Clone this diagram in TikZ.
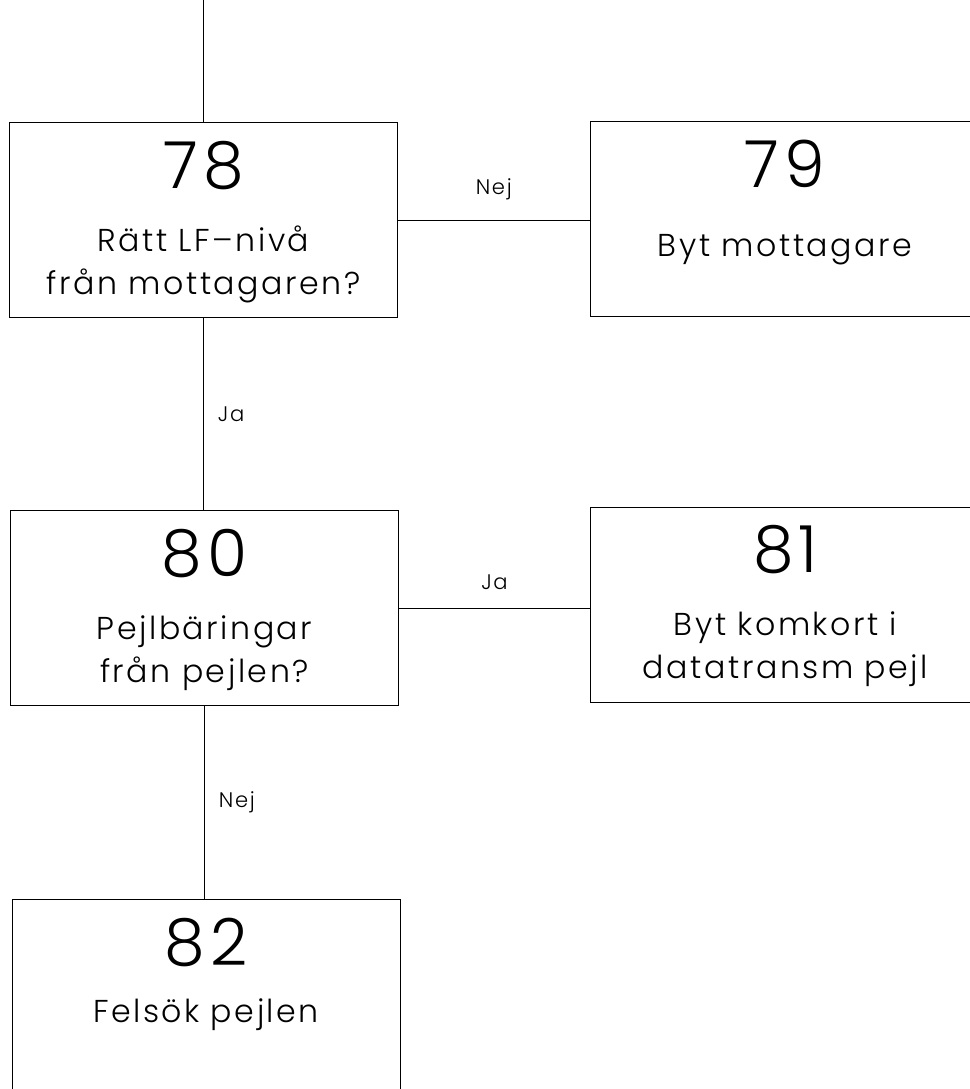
\documentclass[tikz,border=0pt]{standalone}
\usepackage{fontspec}
\setmainfont{Poppins Light}[LetterSpace=8]
\usetikzlibrary{positioning}
\tikzset{
  stepbox/.style={rectangle, draw=black, line width=0.5pt, minimum width=7.76cm, minimum height=3.9cm, inner sep=0pt},
  stepnum/.style={font=\fontsize{37}{37}\selectfont, inner sep=0pt},
  steptext/.style={font=\fontsize{18}{24.4}\selectfont, align=center, inner sep=0pt, anchor=base},
  answer/.style={font=\fontsize{12}{14}\selectfont, inner sep=0pt},
  flow/.style={draw=black, line width=0.5pt}
}
\begin{document}
\begin{tikzpicture}[x=0.02cm, y=-0.02cm]
\useasboundingbox (0,0) rectangle (970,1089);
\clip (0,0) rectangle (970,1089);

% steps
\node[stepbox] (b78) at (203.5,220) {};
\node[stepbox, minimum width=7.8cm] (b79) at (785,218.5) {};
\node[stepbox] (b80) at (204.5,608) {};
\node[stepbox, minimum width=7.8cm] (b81) at (785.5,604.5) {};
\node[stepbox] (b82) at (206,997) {};

% numbers and texts (base = last line)
\node[stepnum] (n78) at ([yshift=-0.86cm]b78.north) {78};
\node[steptext] (t78) at ([yshift=-3.44cm]b78.north) {Rätt LF--nivå\\från mottagaren?};
\node[stepnum] (n79) at ([yshift=-0.86cm]b79.north) {79};
\node[steptext] (t79) at ([yshift=-2.72cm]b79.north) {Byt mottagare};
\node[stepnum] (n80) at ([yshift=-0.86cm]b80.north) {80};
\node[steptext] (t80) at ([yshift=-3.44cm]b80.north) {Pejlbäringar\\från pejlen?};
\node[stepnum] (n81) at ([yshift=-0.86cm]b81.north) {81};
\node[steptext] (t81) at ([yshift=-3.44cm]b81.north) {Byt komkort i\\datatransm pejl};
\node[stepnum] (n82) at ([yshift=-0.86cm]b82.north) {82};
\node[steptext] (t82) at ([yshift=-2.46cm]b82.north) {Felsök pejlen};

% connectors
\coordinate (in78) at (203.5,0);
\draw[flow] (in78) -- (b78.north);
\draw[flow] (b78.east) -- node[answer, above=0.4cm] {Nej} (b78.east -| b79.west);
\draw[flow] (b78.south) -- node[answer, right=0.28cm] {Ja} (b78.south |- b80.north);
\draw[flow] (b80.east) -- node[answer, above=0.36cm] {Ja} (b80.east -| b81.west);
\draw[flow] (b80.south) -- node[answer, right=0.28cm] {Nej} (b80.south |- b82.north);
\end{tikzpicture}
\end{document}
